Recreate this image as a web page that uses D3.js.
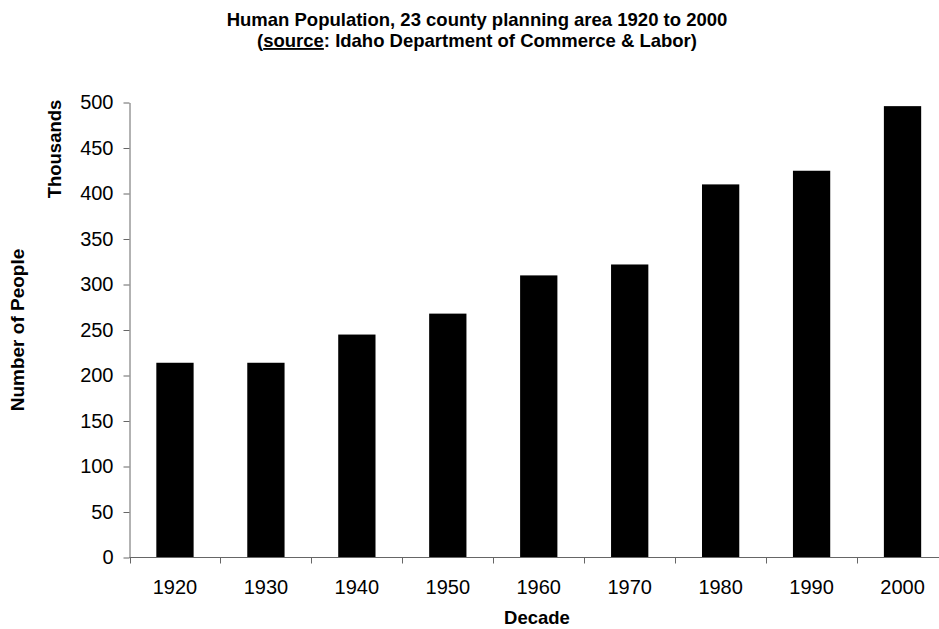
<!DOCTYPE html>
<html><head><meta charset="utf-8">
<script src="https://cdn.jsdelivr.net/npm/d3@7"></script>
<style>body{margin:0;background:#fff}svg{display:block;font-family:"Liberation Sans",Arial,sans-serif}</style>
</head><body>
<svg id="c" width="939" height="629"></svg>
<script>
const decades = ["1920","1930","1940","1950","1960","1970","1980","1990","2000"];
const population = [214, 214, 245, 268, 310, 322, 410, 425, 496];
const yTicks = [0,50,100,150,200,250,300,350,400,450,500];

(function(){
const svg = d3.select("#c");
const mL = 129.5, mR = 948, mT = 102.5, mB = 557.5;
const x = d3.scaleBand().domain(decades).range([mL, mR]).paddingInner(0.59).paddingOuter(0.295);
const y = d3.scaleLinear().domain([0,500]).range([mB, mT]);

svg.append("g").selectAll("rect").data(decades).join("rect")
  .attr("x", d => x(d)).attr("width", x.bandwidth())
  .attr("y", (d,i) => y(population[i])).attr("height", (d,i) => mB - y(population[i]))
  .attr("fill", "#000");

const ya = svg.append("g").attr("transform", `translate(${mL},0)`)
  .call(d3.axisLeft(y).tickValues(yTicks).tickSize(6).tickPadding(10).tickSizeOuter(0));
ya.selectAll("text").attr("font-size", 20).attr("fill", "#000").attr("font-family", "Liberation Sans, Arial, sans-serif");
ya.selectAll("line,path").attr("stroke", "#666");

const xa = svg.append("g").attr("transform", `translate(0,${mB})`);
xa.append("line").attr("x1", mL).attr("x2", mR).attr("stroke", "#666");
const step = x.step();
xa.selectAll("line.t").data(decades).join("line").attr("class","t")
  .attr("x1", d => Math.round(x(d) - x.paddingInner()*step/2) + 0.5)
  .attr("x2", d => Math.round(x(d) - x.paddingInner()*step/2) + 0.5)
  .attr("y1", 0).attr("y2", 6).attr("stroke", "#666");
xa.selectAll("text").data(decades).join("text")
  .attr("x", d => x(d) + x.bandwidth()/2).attr("y", 36)
  .attr("text-anchor", "middle").attr("font-size", 20).text(d => d);

const t = svg.append("text").attr("x", 477).attr("y", 26).attr("text-anchor","middle")
  .attr("font-size", 18.5).attr("font-weight","bold");
t.append("tspan").text("Human Population, 23 county planning area 1920 to 2000");
const t2 = svg.append("text").attr("x", 477).attr("y", 47).attr("text-anchor","middle")
  .attr("font-size", 18.5).attr("font-weight","bold");
t2.append("tspan").text("(");
t2.append("tspan").attr("text-decoration","underline").text("source");
t2.append("tspan").text(": Idaho Department of Commerce & Labor)");

svg.append("text").attr("transform","translate(61,149) rotate(-90)").attr("text-anchor","middle")
  .attr("font-size", 18.5).attr("font-weight","bold").text("Thousands");
svg.append("text").attr("transform","translate(24,330) rotate(-90)").attr("text-anchor","middle")
  .attr("font-size", 19).attr("font-weight","bold").text("Number of People");
svg.append("text").attr("x", 537).attr("y", 624).attr("text-anchor","middle")
  .attr("font-size", 18.5).attr("font-weight","bold").text("Decade");
})();
</script>
</body></html>
